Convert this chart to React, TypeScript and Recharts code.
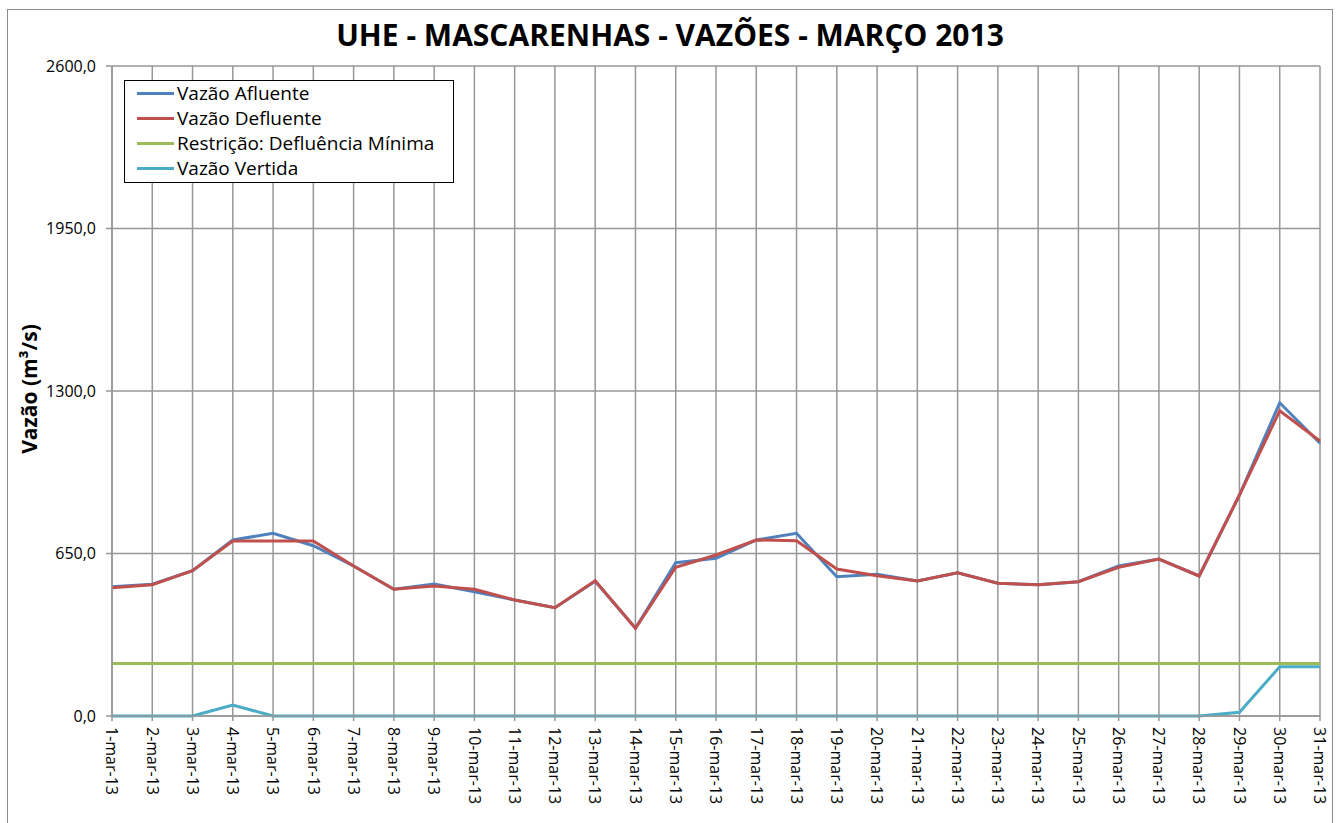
import { LineChart, Line, XAxis, YAxis, CartesianGrid, Legend } from 'recharts'

const days = [
  '1-mar-13', '2-mar-13', '3-mar-13', '4-mar-13', '5-mar-13', '6-mar-13', '7-mar-13', '8-mar-13',
  '9-mar-13', '10-mar-13', '11-mar-13', '12-mar-13', '13-mar-13', '14-mar-13', '15-mar-13', '16-mar-13',
  '17-mar-13', '18-mar-13', '19-mar-13', '20-mar-13', '21-mar-13', '22-mar-13', '23-mar-13', '24-mar-13',
  '25-mar-13', '26-mar-13', '27-mar-13', '28-mar-13', '29-mar-13', '30-mar-13', '31-mar-13'
]

const afluente = [
  517, 527, 581, 704, 731, 681, 600, 507, 528, 497, 464, 433, 539, 351, 613, 631,
  704, 731, 557, 567, 540, 573, 531, 525, 537, 600, 628, 560, 884, 1253, 1091
]

const defluente = [
  513, 525, 581, 700, 700, 700, 600, 507, 520, 507, 464, 433, 541, 351, 595, 644,
  704, 701, 588, 561, 540, 573, 531, 525, 537, 595, 628, 560, 884, 1221, 1100
]

const restricao = [
  210, 210, 210, 210, 210, 210, 210, 210, 210, 210, 210, 210, 210, 210, 210, 210,
  210, 210, 210, 210, 210, 210, 210, 210, 210, 210, 210, 210, 210, 210, 210
]

const vertida = [
  0, 0, 0, 44, 0, 0, 0, 0, 0, 0, 0, 0, 0, 0, 0, 0,
  0, 0, 0, 0, 0, 0, 0, 0, 0, 0, 0, 0, 15, 197, 197
]

const seriesNames = ['Vazão Afluente', 'Vazão Defluente', 'Restrição: Defluência Mínima', 'Vazão Vertida']

const yTicks = [0, 650, 1300, 1950, 2600]

const data = days.map((day, i) => ({
  day,
  afluente: afluente[i],
  defluente: defluente[i],
  restricao: restricao[i],
  vertida: vertida[i]
}))

const FONT = '"Open Sans", sans-serif'
const GRID = '#979797'

const fmt = (v: number) => v.toFixed(1).replace('.', ',')

const DayTick = (props: any) => {
  const { x, y, payload } = props
  return (
    <text
      transform={`translate(${x},${y + 4}) rotate(90)`}
      dy="0.36em"
      textAnchor="start"
      fontSize={16}
      fontFamily={FONT}
      fill="#000"
    >
      {payload.value}
    </text>
  )
}

const renderLegend = (props: any) => {
  // keep the series order, not the alphabetical one
  const items = [...(props.payload || [])].sort(
    (a: any, b: any) => seriesNames.indexOf(a.value) - seriesNames.indexOf(b.value)
  )
  return (
    <div
      style={{
        boxSizing: 'border-box',
        width: 330,
        border: '1px solid #000',
        background: '#fff',
        padding: '0px 0px 1px 12px',
        fontFamily: FONT,
        fontSize: 19,
        lineHeight: '25px',
        color: '#000'
      }}
    >
      {items.map((item: any) => (
        <div key={item.value} style={{ display: 'flex', alignItems: 'center', whiteSpace: 'nowrap' }}>
          <span style={{ display: 'inline-block', width: 37, height: 3, background: item.color, marginRight: 3 }} />
          {item.value}
        </div>
      ))}
    </div>
  )
}

export default function App() {
  return (
    <div style={{ position: 'absolute', left: 0, top: 0, width: 1340, height: 823, overflow: 'hidden', background: '#fff' }}>
      <div
        style={{
          position: 'absolute',
          left: 7,
          top: 9,
          width: 1324,
          height: 840,
          border: '1px solid #8c8c8c'
        }}
      />
      <div
        style={{
          position: 'absolute',
          left: 0,
          top: 14,
          width: 1340,
          textAlign: 'center',
          fontFamily: FONT,
          fontWeight: 700,
          fontSize: 30,
          color: '#000'
        }}
      >
        UHE - MASCARENHAS - VAZÕES - MARÇO 2013
      </div>
      <div style={{ position: 'absolute', left: 0, top: 0 }}>
        <LineChart width={1340} height={823} data={data} margin={{ top: 66, right: 20, bottom: 27, left: 12 }}>
          <CartesianGrid stroke={GRID} strokeWidth={1.5} vertical horizontal />
          <XAxis
            dataKey="day"
            interval={0}
            height={80}
            tick={<DayTick />}
            tickSize={5}
            stroke={GRID}
            strokeWidth={1.5}
          />
          <YAxis
            domain={[0, 2600]}
            ticks={yTicks}
            tickFormatter={fmt}
            width={100}
            tickSize={6}
            tickMargin={10}
            stroke={GRID}
            strokeWidth={1.5}
            tick={{ fill: '#000', fontSize: 16, fontFamily: FONT }}
            label={{
              content: () => (
                <text
                  x={37}
                  y={389}
                  transform="rotate(-90 37 389)"
                  textAnchor="middle"
                  fontFamily={FONT}
                  fontWeight={700}
                  fontSize={21}
                  fill="#000"
                >
                  Vazão (m³/s)
                </text>
              )
            }}
          />
          <Legend
            layout="vertical"
            align="center"
            verticalAlign="middle"
            content={renderLegend}
            wrapperStyle={{ left: 124, top: 80, width: 'auto', height: 'auto' }}
          />
          <Line name={seriesNames[0]} dataKey="afluente" stroke="#4f81bd" strokeWidth={3} dot={false} isAnimationActive={false} />
          <Line name={seriesNames[1]} dataKey="defluente" stroke="#c0504d" strokeWidth={3} dot={false} isAnimationActive={false} />
          <Line name={seriesNames[2]} dataKey="restricao" stroke="#9bbb59" strokeWidth={3} dot={false} isAnimationActive={false} />
          <Line name={seriesNames[3]} dataKey="vertida" stroke="#4bacc6" strokeWidth={3} dot={false} isAnimationActive={false} />
        </LineChart>
      </div>
    </div>
  )
}
